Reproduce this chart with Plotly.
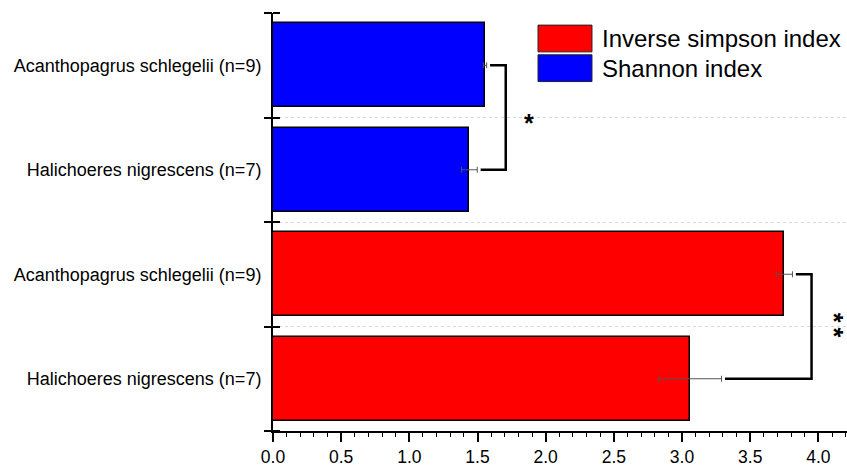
import plotly.graph_objects as go

# Groups (bottom to top within each index block)
groups = ["Halichoeres nigrescens (n=7)", "Acanthopagrus schlegelii (n=9)"]

# Inverse Simpson index: mean and error
inv_simpson_mean = [3.06, 3.75]
inv_simpson_err = [0.23, 0.06]

# Shannon index: mean and error
shannon_mean = [1.44, 1.555]
shannon_err = [0.058, 0.012]

series_names = ["Inverse simpson index", "Shannon index"]
series_colors = ["#ff0000", "#0000ff"]
significance = ["**", "*"]

FONT = "Arial, Liberation Sans, sans-serif"

red_pos = [0, 1]
blue_pos = [2, 3]

fig = go.Figure()

for name, color, means, errs, pos in [
    (series_names[0], series_colors[0], inv_simpson_mean, inv_simpson_err, red_pos),
    (series_names[1], series_colors[1], shannon_mean, shannon_err, blue_pos),
]:
    fig.add_trace(go.Bar(
        x=means, y=pos, orientation="h", width=0.8, name=name,
        marker=dict(color=color, line=dict(color="black", width=1.5)),
        error_x=dict(type="data", array=errs, visible=True,
                     color="#555555", thickness=1, width=3),
        showlegend=False,
    ))

# Significance brackets joining the two groups of each index
shapes = []
annotations = []
for means, errs, pos, sig in [
    (inv_simpson_mean, inv_simpson_err, red_pos, significance[0]),
    (shannon_mean, shannon_err, blue_pos, significance[1]),
]:
    ends = [m + e for m, e in zip(means, errs)]
    right = max(ends) + 0.14
    gap = 0.025
    path = (f"M {ends[1] + gap} {pos[1]} L {right} {pos[1]} "
            f"L {right} {pos[0]} L {ends[0] + gap} {pos[0]}")
    shapes.append(dict(type="path", path=path, xref="x", yref="y",
                       line=dict(color="black", width=2.5)))
    mid = (pos[0] + pos[1]) / 2
    stacked = len(sig) > 1
    annotations.append(dict(
        x=right + 0.17, y=mid, xref="x", yref="y",
        text="<b>" + "&#8201;".join(sig) + "</b>", showarrow=False,
        textangle=90 if stacked else 0,
        xshift=0, yshift=1 if stacked else -5,
        font=dict(family=FONT, size=25, color="black")))

# Legend drawn as boxes with labels
legend_rows = [(0.939, series_colors[0], series_names[0]),
               (0.868, series_colors[1], series_names[1])]
for yc, color, name in legend_rows:
    shapes.append(dict(type="rect", xref="paper", yref="paper",
                       x0=0.4617, x1=0.5557, y0=yc - 0.032, y1=yc + 0.032,
                       fillcolor=color, line=dict(color="#222222", width=1)))
    annotations.append(dict(x=0.5697, y=yc, xref="paper", yref="paper",
                            xanchor="left", yanchor="middle", text=name,
                            showarrow=False,
                            font=dict(family=FONT, size=24, color="black")))

boundaries = [-0.5, 0.5, 1.5, 2.5, 3.5]

fig.update_layout(
    width=847, height=467,
    margin=dict(l=273, r=0, t=13, b=34),
    plot_bgcolor="white", paper_bgcolor="white",
    font=dict(family=FONT, size=17, color="black"),
    bargap=0,
    shapes=shapes,
    annotations=annotations,
    xaxis=dict(
        range=[0, 4.21], tickvals=[0, 0.5, 1, 1.5, 2, 2.5, 3, 3.5, 4],
        ticktext=["0.0", "0.5", "1.0", "1.5", "2.0", "2.5", "3.0", "3.5", "4.0"],
        ticks="outside", ticklen=9, tickwidth=1.5, tickcolor="black",
        minor=dict(dtick=0.1, tick0=0, ticks="outside", ticklen=4,
                   tickwidth=1.2, tickcolor="black", showgrid=False),
        showline=True, linecolor="black", linewidth=2,
        showgrid=False, zeroline=False, fixedrange=True,
        tickfont=dict(family=FONT, size=17.5, color="black"),
    ),
    yaxis=dict(
        range=[-0.5, 3.5], tickmode="array", tickvals=red_pos + blue_pos,
        ticktext=groups + groups, ticks="", ticklabelstandoff=6,
        showline=True, linecolor="black", linewidth=2,
        showgrid=False, zeroline=False,
        minor=dict(tickmode="array", tickvals=boundaries[1:-1], ticks="",
                   showgrid=True, gridcolor="#d9d9d9", griddash="dot",
                   gridwidth=1),
        tickfont=dict(family=FONT, size=18, color="black"),
    ),
    yaxis2=dict(
        overlaying="y", anchor="x", side="left", range=[-0.5, 3.5],
        tickmode="array", tickvals=boundaries, showticklabels=False,
        ticks="outside", ticklen=8, tickwidth=1.5, tickcolor="black",
        minor=dict(tickmode="array", tickvals=boundaries, ticks="inside",
                   ticklen=7, tickwidth=1.5, tickcolor="black"),
        showgrid=False, zeroline=False, showline=False,
    ),
)

# invisible trace to activate the secondary y axis
fig.add_trace(go.Scatter(x=[None], y=[None], yaxis="y2", showlegend=False,
                         hoverinfo="skip"))

fig.write_html("out.html")
